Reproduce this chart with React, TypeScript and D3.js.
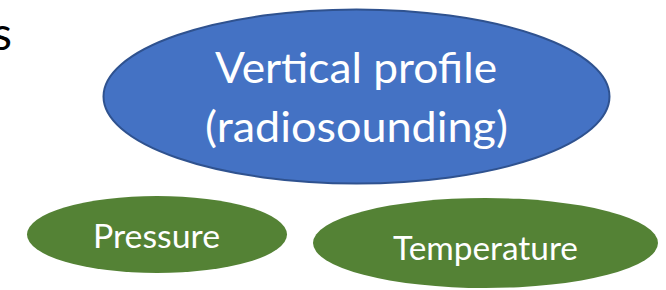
import React, { useEffect, useRef } from "react";
import * as d3 from "d3";

// labels of the diagram nodes
const mainLines = ["Vertical profile", "(radiosounding)"];
const childLabels = ["Pressure", "Temperature"];
const leftoverText = "s";

const W = 666;
const H = 290;

const App = () => {
  const svgRef = useRef<SVGSVGElement>(null);

  useEffect(() => {
    const svg = d3.select(svgRef.current);
    svg.selectAll("*").remove();

    // layout of the shapes (pixel space)
    const main = { cx: 356.5, cy: 96.5, rx: 253, ry: 87 };
    const children = [
      { cx: 157, cy: 234.5, rx: 130, ry: 38.5, tx: 156.5, ty: 248, len: 127 },
      { cx: 485.5, cy: 243, rx: 172.5, ry: 45, tx: 485.5, ty: 260, len: 185 },
    ];
    const mainText = [
      { x: 356, y: 83, len: 282 },
      { x: 356.5, y: 142, len: 303 },
    ];

    svg.append("rect").attr("width", W).attr("height", H).attr("fill", "#fff");

    // cut-off text at top left
    svg
      .append("text")
      .attr("x", 12)
      .attr("y", 50)
      .attr("text-anchor", "end")
      .attr("font-family", "Lato, 'Open Sans', sans-serif")
      .attr("font-size", 46)
      .attr("fill", "#000")
      .text(leftoverText);

    svg
      .append("ellipse")
      .attr("cx", main.cx)
      .attr("cy", main.cy)
      .attr("rx", main.rx)
      .attr("ry", main.ry)
      .attr("fill", "#4472C4")
      .attr("stroke", "#2F528F")
      .attr("stroke-width", 2);

    svg
      .selectAll("text.main")
      .data(mainLines)
      .enter()
      .append("text")
      .attr("class", "main")
      .attr("x", (d, i) => mainText[i].x)
      .attr("y", (d, i) => mainText[i].y)
      .attr("text-anchor", "middle")
      .attr("textLength", (d, i) => mainText[i].len)
      .attr("lengthAdjust", "spacingAndGlyphs")
      .attr("font-family", "Lato, 'Open Sans', sans-serif")
      .attr("font-size", 42)
      .attr("fill", "#fff")
      .text((d) => d);

    const g = svg
      .selectAll("g.child")
      .data(childLabels)
      .enter()
      .append("g")
      .attr("class", "child");

    g.append("ellipse")
      .attr("cx", (d, i) => children[i].cx)
      .attr("cy", (d, i) => children[i].cy)
      .attr("rx", (d, i) => children[i].rx)
      .attr("ry", (d, i) => children[i].ry)
      .attr("fill", "#548235");

    g.append("text")
      .attr("x", (d, i) => children[i].tx)
      .attr("y", (d, i) => children[i].ty)
      .attr("text-anchor", "middle")
      .attr("textLength", (d, i) => children[i].len)
      .attr("lengthAdjust", "spacingAndGlyphs")
      .attr("font-family", "Lato, 'Open Sans', sans-serif")
      .attr("font-size", 33)
      .attr("fill", "#fff")
      .text((d) => d);

    return () => {
      svg.selectAll("*").remove();
    };
  }, []);

  return (
    <svg
      ref={svgRef}
      width={W}
      height={H}
      style={{ position: "absolute", left: 0, top: 0 }}
    />
  );
};

export default App;
